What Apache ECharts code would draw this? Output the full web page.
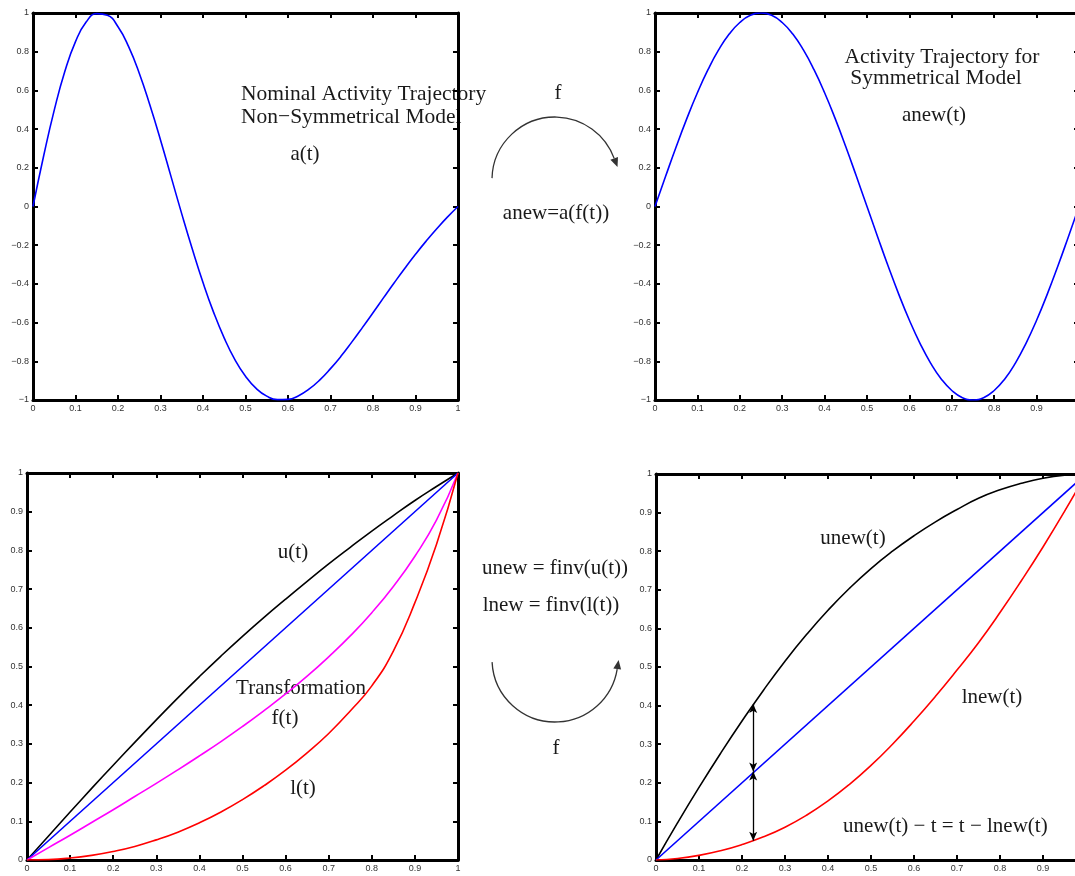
<!DOCTYPE html>
<html>
<head>
<meta charset="utf-8">
<script src="https://cdn.jsdelivr.net/npm/echarts@6/dist/echarts.min.js"></script>
<style>
html,body{margin:0;padding:0;background:#fff;}
#chart{width:1075px;height:876px;}
</style>
</head>
<body>
<div id="chart"></div>
<script>
// ---------- data ----------
const tFine = [0,0.025,0.05,0.075,0.1,0.125,0.15,0.175,0.2,0.225,0.25,0.275,0.3,0.325,0.35,0.375,0.4,0.425,0.45,0.475,0.5,0.525,0.55,0.575,0.6,0.625,0.65,0.675,0.7,0.725,0.75,0.775,0.8,0.825,0.85,0.875,0.9,0.925,0.95,0.975,1];
const aNominal = [0,0.261,0.498,0.699,0.852,0.953,0.997,0.988,0.929,0.826,0.689,0.524,0.344,0.153,-0.038,-0.221,-0.393,-0.547,-0.680,-0.791,-0.877,-0.940,-0.980,-0.998,-0.997,-0.978,-0.943,-0.896,-0.838,-0.773,-0.701,-0.626,-0.549,-0.471,-0.394,-0.319,-0.247,-0.179,-0.115,-0.055,0];
const aNew = [0,0.156,0.309,0.454,0.588,0.707,0.809,0.891,0.951,0.988,1,0.988,0.951,0.891,0.809,0.707,0.588,0.454,0.309,0.156,0,-0.156,-0.309,-0.454,-0.588,-0.707,-0.809,-0.891,-0.951,-0.988,-1,-0.988,-0.951,-0.891,-0.809,-0.707,-0.588,-0.454,-0.309,-0.156,0];

const tCoarse = [0,0.05,0.1,0.15,0.2,0.25,0.3,0.35,0.4,0.45,0.5,0.55,0.6,0.65,0.7,0.75,0.8,0.85,0.9,0.95,1];
const uUpper = [0,0.062,0.124,0.185,0.245,0.304,0.362,0.419,0.474,0.527,0.578,0.627,0.674,0.72,0.765,0.808,0.85,0.89,0.929,0.965,1];
const fTrans = [0,0.032,0.064,0.097,0.13,0.164,0.198,0.233,0.269,0.306,0.345,0.386,0.429,0.475,0.525,0.579,0.639,0.707,0.785,0.878,1];
const lLower = [0,0.001,0.005,0.012,0.022,0.035,0.052,0.072,0.096,0.124,0.156,0.192,0.232,0.277,0.327,0.385,0.45,0.54,0.665,0.815,1];
const uNew = [0,0.096,0.188,0.276,0.36,0.44,0.515,0.584,0.647,0.704,0.755,0.8,0.84,0.876,0.908,0.937,0.959,0.976,0.989,0.997,1];
const lNew = [0,0.004,0.012,0.024,0.04,0.06,0.085,0.116,0.153,0.196,0.245,0.3,0.36,0.424,0.492,0.563,0.641,0.724,0.811,0.903,1];
const diagT = [0,1];
const diagV = [0,1];
const arrowT = 0.226;
const arrowLevels = [0.404, 0.229, 0.05];

// ---------- helpers ----------
const pairs = (xs, ys) => xs.map((x, i) => [x, ys[i]]);
const fmt = v => String(+(+v).toFixed(1)).replace('-', '\u2212');
const LBL = {fontSize: 9, color: '#333', fontFamily: 'Liberation Sans', formatter: fmt};

function xAx(gi, pos, showLabel) {
  return {type: 'value', gridIndex: gi, position: pos, min: 0, max: 1, interval: 0.1,
    axisLine: {show: true, onZero: false, lineStyle: {color: '#000', width: 3}},
    axisTick: {show: true, inside: true, length: 5, lineStyle: {color: '#000', width: 2}},
    axisLabel: Object.assign({show: showLabel, margin: 4, hideOverlap: false}, LBL),
    splitLine: {show: false}};
}
function yAx(gi, pos, showLabel, mn, mx, iv) {
  return {type: 'value', gridIndex: gi, position: pos, min: mn, max: mx, interval: iv,
    axisLine: {show: true, onZero: false, lineStyle: {color: '#000', width: 3}},
    axisTick: {show: true, inside: true, length: 5, lineStyle: {color: '#000', width: 2}},
    axisLabel: Object.assign({show: showLabel, margin: 4, hideOverlap: false}, LBL),
    splitLine: {show: false}};
}
function line(gi, data, color) {
  return {type: 'line', xAxisIndex: gi * 2, yAxisIndex: gi * 2, data: data, showSymbol: false,
    smooth: true, silent: true, lineStyle: {color: color, width: 1.6}, itemStyle: {color: color}};
}

const SERIF = '"Liberation Serif", "Times New Roman", serif';
function txt(s, x, y, align, size) {
  return {type: 'text', x: x, y: y, silent: true,
    style: {text: s, font: (size || 21) + 'px ' + SERIF, fill: '#1a1a1a', align: align || 'center', verticalAlign: 'middle'}};
}

const G = {containLabel: false, outerBoundsMode: 'none'};
const grids = [
  Object.assign({left: 33, top: 13, width: 425, height: 387}, G),
  Object.assign({left: 655, top: 13, width: 424, height: 387}, G),
  Object.assign({left: 27, top: 473, width: 431, height: 387}, G),
  Object.assign({left: 656, top: 474, width: 430, height: 386}, G)
];

const xAxes = [], yAxes = [];
for (let g = 0; g < 4; g++) {
  xAxes.push(xAx(g, 'bottom', true));
  xAxes.push(xAx(g, 'top', false));
  const top = g < 2;
  yAxes.push(yAx(g, 'left', true, top ? -1 : 0, 1, top ? 0.2 : 0.1));
  yAxes.push(yAx(g, 'right', false, top ? -1 : 0, 1, top ? 0.2 : 0.1));
}

const blueDiag2 = line(2, pairs(diagT, diagV), '#0000ff');
blueDiag2.smooth = false;
const blueDiag3 = line(3, pairs(diagT, diagV), '#0000ff');
blueDiag3.smooth = false;
blueDiag3.markLine = {
  silent: true, symbol: ['arrow', 'arrow'], symbolSize: [6, 9],
  lineStyle: {color: '#000', width: 1.3, type: 'solid'}, label: {show: false},
  data: [
    [{coord: [arrowT, arrowLevels[0]]}, {coord: [arrowT, arrowLevels[1]]}],
    [{coord: [arrowT, arrowLevels[1]]}, {coord: [arrowT, arrowLevels[2]]}]
  ]
};

const series = [
  line(0, pairs(tFine, aNominal), '#0000ff'),
  line(1, pairs(tFine, aNew), '#0000ff'),
  line(2, pairs(tCoarse, uUpper), '#000000'),
  blueDiag2,
  line(2, pairs(tCoarse, fTrans), '#ff00ff'),
  line(2, pairs(tCoarse, lLower), '#ff0000'),
  line(3, pairs(tCoarse, uNew), '#000000'),
  blueDiag3,
  line(3, pairs(tCoarse, lNew), '#ff0000')
];

const graphic = [
  txt('Nominal Activity Trajectory', 241, 94, 'left', 21.5),
  txt('Non\u2212Symmetrical Model', 241, 117, 'left', 21.5),
  txt('a(t)', 305, 154),
  txt('f', 558, 93),
  txt('anew=a(f(t))', 556, 213),
  txt('Activity Trajectory for', 942, 57, 'center', 21.5),
  txt('Symmetrical Model', 936, 78, 'center', 21.5),
  txt('anew(t)', 934, 115),
  txt('u(t)', 293, 552),
  txt('Transformation', 301, 688),
  txt('f(t)', 285, 718),
  txt('l(t)', 303, 788),
  txt('unew = finv(u(t))', 555, 568),
  txt('lnew = finv(l(t))', 551, 605),
  txt('f', 556, 748),
  txt('unew(t)', 853, 538),
  txt('lnew(t)', 992, 697),
  txt('unew(t) \u2212 t = t \u2212 lnew(t)', 843, 826, 'left'),
  {type: 'arc', silent: true, shape: {cx: 555, cy: 180, r: 63, startAngle: Math.PI + 0.03, endAngle: 2 * Math.PI - 0.35, clockwise: true},
    style: {stroke: '#333', lineWidth: 1.3, fill: null}},
  {type: 'polygon', silent: true, shape: {points: [[617.5, 167], [618, 157], [610.4, 159.8]]}, style: {fill: '#333'}},
  {type: 'arc', silent: true, shape: {cx: 555, cy: 659, r: 63, startAngle: Math.PI - 0.05, endAngle: 0.16, clockwise: false},
    style: {stroke: '#333', lineWidth: 1.3, fill: null}},
  {type: 'polygon', silent: true, shape: {points: [[618.6, 660], [621.1, 669.6], [613.3, 668.4]]}, style: {fill: '#333'}}
];

const chart = echarts.init(document.getElementById('chart'), null, {renderer: 'canvas'});
chart.setOption({
  animation: false,
  backgroundColor: '#ffffff',
  grid: grids,
  xAxis: xAxes,
  yAxis: yAxes,
  series: series,
  graphic: graphic
});
</script>
</body>
</html>
